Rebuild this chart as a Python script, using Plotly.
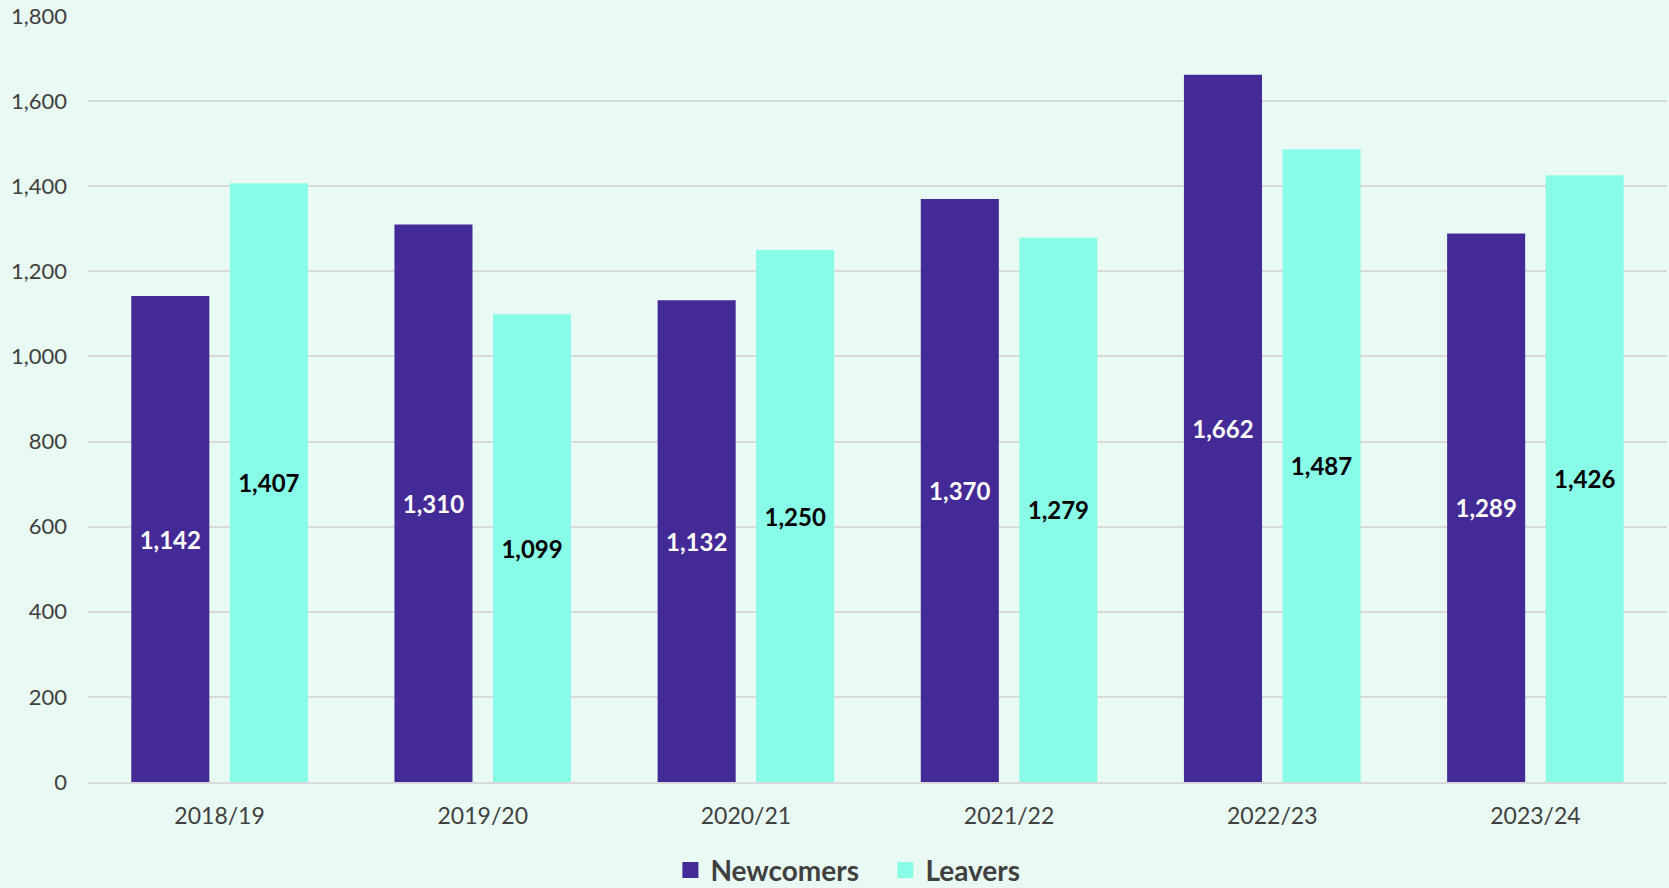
import plotly.graph_objects as go

years = ["2018/19", "2019/20", "2020/21", "2021/22", "2022/23", "2023/24"]
newcomers = [1142, 1310, 1132, 1370, 1662, 1289]
leavers = [1407, 1099, 1250, 1279, 1487, 1426]

FONT = "Lato"
BG = "#E8FAF3"
C_NEW = "#442A96"
C_LEA = "#88FCE6"

fig = go.Figure()
fig.add_trace(go.Bar(
    x=years, y=newcomers, name="Newcomers", showlegend=False,
    marker=dict(color=C_NEW, line=dict(width=0)),
    text=[f"{v:,}" for v in newcomers], textposition="inside",
    insidetextanchor="middle", textangle=0,
    textfont=dict(family=FONT, size=24, color="white", weight="bold"),
))
fig.add_trace(go.Bar(
    x=years, y=leavers, name="Leavers", showlegend=False,
    marker=dict(color=C_LEA, line=dict(width=0)),
    text=[f"{v:,}" for v in leavers], textposition="inside",
    insidetextanchor="middle", textangle=0,
    textfont=dict(family=FONT, size=24, color="black", weight="bold"),
))
# legend entries with larger square swatches
for name, col in [("Newcomers", C_NEW), ("Leavers", C_LEA)]:
    fig.add_trace(go.Scatter(
        x=[None], y=[None], mode="markers", name=name,
        marker=dict(symbol="square", size=16, color=col),
    ))

fig.update_layout(
    width=1669, height=888,
    paper_bgcolor=BG, plot_bgcolor=BG,
    margin=dict(l=88, r=2, t=16, b=106),
    barmode="group", bargap=0.251, bargroupgap=0.208,
    uniformtext=dict(minsize=10, mode="show"),
    font=dict(family=FONT, color="#404040"),
    legend=dict(
        orientation="h", x=0.505, xanchor="center",
        yref="container", y=0.02, yanchor="middle",
        font=dict(family=FONT, size=28, color="#404040", weight="bold"),
        itemsizing="trace", itemwidth=30, traceorder="normal",
        entrywidth=170, tracegroupgap=0,
        bgcolor="rgba(0,0,0,0)",
    ),
    xaxis=dict(
        tickfont=dict(family=FONT, size=23, color="#404040"),
        showline=True, linecolor="#d9d9d9", linewidth=2,
        ticks="", showgrid=False, ticklabelstandoff=12,
    ),
    yaxis=dict(
        range=[0, 1800], dtick=200, tickformat=",",
        tickfont=dict(family=FONT, size=22, color="#404040"),
        showgrid=True, gridcolor="#d9d9d9", gridwidth=1.5,
        zeroline=False, showline=False, ticks="", ticklabelstandoff=20,
    ),
)

fig.write_html(
    "out.html",
    config={"displayModeBar": False},
    post_script=f"document.body.style.margin='0';document.body.style.background='{BG}';",
)
